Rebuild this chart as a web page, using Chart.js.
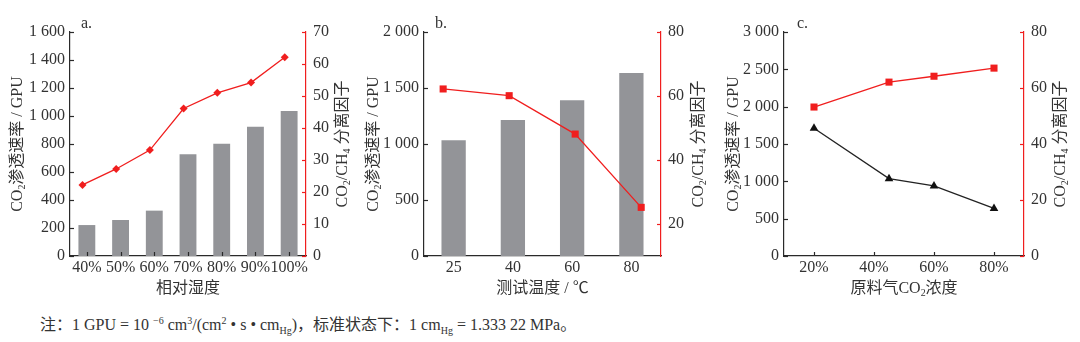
<!DOCTYPE html>
<html><head><meta charset="utf-8">
<script src="https://cdn.jsdelivr.net/npm/chart.js@4"></script>
<style>
body{margin:0;background:#fff;width:1080px;height:342px;position:relative;overflow:hidden}
.c{position:absolute;top:0;width:360px;height:300px}
#note{position:absolute;left:40px;top:315px;font:16px 'Liberation Serif','Noto Sans CJK SC',serif;color:#333;white-space:nowrap;line-height:20px}
#note sup,#note sub{font-size:10px;line-height:0}
</style></head><body>
<div class="c" style="left:0"><canvas id="ca"></canvas></div>
<div class="c" style="left:360px"><canvas id="cb"></canvas></div>
<div class="c" style="left:720px"><canvas id="cc"></canvas></div>
<div id="note">注：1 GPU = 10 <sup>−6</sup> cm<sup>3</sup>/(cm<sup>2</sup> • s • cm<sub>Hg</sub>)，标准状态下：1 cm<sub>Hg</sub> = 1.333 22 MPa。</div>
<script>
// ---- Panel a: relative humidity ----
const humidityLabels = ['40%','50%','60%','70%','80%','90%','100%'];
const humidityPermeance = [221,257,324,726,802,924,1036];
const humiditySelectivity = [22.2,27.2,33.1,46.1,51,54.2,62.1];
// ---- Panel b: test temperature ----
const tempLabels = ['25','40','60','80'];
const tempPermeance = [1033,1214,1390,1634];
const tempSelectivity = [62.2,60.1,48.1,25.2];
const tempRightTicks = [20,40,60,80];
// ---- Panel c: feed CO2 concentration ----
const feedCO2 = [20,45,60,80];
const feedPermeance = [1712,1036,938,637];
const feedSelectivity = [53.2,62.1,64.2,67.1];
const feedTicks = [20,40,60,80];

const FONT = "'Liberation Serif','Noto Sans CJK SC',serif";
const TXT = '#333';
const AX = '#2a2a2a';
const RED = '#f01e1e';
const GRAY = '#939498';
const FS = 16;

const sep = v => String(v).replace(/\B(?=(\d{3})+(?!\d))/g, ' ');

function rich(ctx, parts, x, y, rot, size) {
  ctx.save();
  ctx.translate(x, y);
  ctx.rotate(rot);
  const sub = size * 0.62;
  let total = 0;
  const ws = parts.map(p => {
    ctx.font = (p.s ? sub : size) + 'px ' + FONT;
    const w = ctx.measureText(p.t).width; total += w; return w;
  });
  let cx = -total / 2;
  ctx.textBaseline = 'alphabetic';
  ctx.textAlign = 'left';
  ctx.fillStyle = TXT;
  parts.forEach((p, i) => {
    ctx.font = (p.s ? sub : size) + 'px ' + FONT;
    ctx.fillText(p.t, cx, size * 0.36 + (p.s ? size * 0.22 : 0));
    cx += ws[i];
  });
  ctx.restore();
}

const leftTitle = [{t:'CO'},{t:'2',s:true},{t:'渗透速率 / GPU'}];
const rightTitle = [{t:'CO'},{t:'2',s:true},{t:'/CH'},{t:'4',s:true},{t:' 分离因子'}];

const deco = {
  id: 'deco',
  afterDraw(chart, args, o) {
    const ctx = chart.ctx, a = chart.chartArea;
    ctx.save();
    ctx.lineWidth = 1.2;
    (o.ticks || []).forEach(sp => {
      const s = chart.scales[sp.id];
      ctx.strokeStyle = sp.color;
      s.ticks.forEach((t, i) => {
        const p = Math.round(s.getPixelForTick(i)) + 0.5;
        ctx.beginPath();
        if (sp.dir === 'l') { ctx.moveTo(a.left, p); ctx.lineTo(a.left + 4, p); }
        else if (sp.dir === 'r') { ctx.moveTo(a.right, p); ctx.lineTo(a.right - 4, p); }
        else { ctx.moveTo(p, a.bottom); ctx.lineTo(p, a.bottom - 4); }
        ctx.stroke();
      });
    });
    ctx.restore();
    const cy = (a.top + a.bottom) / 2;
    rich(ctx, leftTitle, o.lx, cy, -Math.PI / 2, FS);
    rich(ctx, rightTitle, o.rx, cy, -Math.PI / 2, FS);
    rich(ctx, o.xTitle, (a.left + a.right) / 2, 287, 0, FS);
    ctx.save();
    ctx.font = FS + 'px ' + FONT;
    ctx.fillStyle = TXT;
    ctx.textBaseline = 'middle';
    ctx.fillText(o.letter, o.letterX, 24);
    ctx.restore();
  }
};

const tickFont = { family: FONT, size: FS };
function yLeft(max, step, w) {
  return { position: 'left', min: 0, max: max,
    ticks: { stepSize: step, font: tickFont, color: TXT, padding: 5, callback: sep },
    grid: { display: false, drawTicks: false },
    border: { display: true, color: AX, width: 1.2 },
    afterFit: s => { s.width = w; } };
}
function yRight(min, max, step, w, fixed) {
  const o = { position: 'right', min: min, max: max,
    ticks: { stepSize: step, font: tickFont, color: TXT, padding: 7 },
    grid: { display: false, drawTicks: false },
    border: { display: true, color: RED, width: 1.2 },
    afterFit: s => { s.width = w; } };
  if (fixed) o.afterBuildTicks = s => { s.ticks = fixed.map(v => ({ value: v })); };
  return o;
}
function xCat() {
  return { type: 'category', position: 'bottom', offset: true,
    ticks: { font: tickFont, color: TXT, padding: 2, maxRotation: 0, autoSkip: false },
    grid: { display: false, drawTicks: false },
    border: { display: true, color: AX, width: 1.2 },
    afterFit: s => { s.height = 44; } };
}
function xHidden(min, max) {
  return { type: 'linear', display: false, min: min, max: max };
}
const common = {
  responsive: true, maintainAspectRatio: false, animation: false,
  layout: { padding: { top: 32, left: 0, right: 0, bottom: 0 } },
};

// Panel a
new Chart(document.getElementById('ca'), {
  data: {
    labels: humidityLabels,
    datasets: [
      { type: 'line', xAxisID: 'x2', yAxisID: 'y1',
        data: humiditySelectivity.map((v, i) => ({ x: i, y: v })),
        borderColor: RED, borderWidth: 1.3, backgroundColor: RED,
        pointStyle: 'rectRot', pointRadius: 4, pointBorderWidth: 0, order: 0 },
      { type: 'bar', xAxisID: 'x', yAxisID: 'y', data: humidityPermeance, grouped: false,
        backgroundColor: GRAY, barPercentage: 0.5, categoryPercentage: 1, order: 1 }
    ]
  },
  options: Object.assign({}, common, {
    scales: { x: xCat(), x2: xHidden(-0.37, 6.63), y: yLeft(1600, 200, 70), y1: yRight(0, 70, 10, 54) },
    plugins: { legend: { display: false }, tooltip: { enabled: false },
      deco: { letter: 'a.', letterX: 81, lx: 16, rx: 341,
        xTitle: [{ t: '相对湿度' }],
        ticks: [{ id: 'y', dir: 'l', color: AX }, { id: 'y1', dir: 'r', color: RED }, { id: 'x', dir: 'b', color: AX }] } }
  }),
  plugins: [deco]
});

// Panel b
new Chart(document.getElementById('cb'), {
  data: {
    labels: tempLabels,
    datasets: [
      { type: 'line', xAxisID: 'x2', yAxisID: 'y1',
        data: tempSelectivity.map((v, i) => ({ x: i, y: v })),
        borderColor: RED, borderWidth: 1.3, backgroundColor: RED,
        pointStyle: 'rect', pointRadius: 5, pointBorderWidth: 0, order: 0 },
      { type: 'bar', xAxisID: 'x', yAxisID: 'y', data: tempPermeance, grouped: false,
        backgroundColor: GRAY, barPercentage: 0.41, categoryPercentage: 1, order: 1 }
    ]
  },
  options: Object.assign({}, common, {
    scales: { x: xCat(), x2: xHidden(-0.29, 3.3), y: yLeft(2000, 500, 64), y1: yRight(10, 80, 10, 59, tempRightTicks) },
    plugins: { legend: { display: false }, tooltip: { enabled: false },
      deco: { letter: 'b.', letterX: 75, lx: 12, rx: 337,
        xTitle: [{ t: '测试温度 / ℃' }],
        ticks: [{ id: 'y', dir: 'l', color: AX }, { id: 'y1', dir: 'r', color: RED }] } }
  }),
  plugins: [deco]
});

// Panel c
const xc = { type: 'linear', position: 'bottom', min: 10, max: 90,
  afterBuildTicks: s => { s.ticks = feedTicks.map(v => ({ value: v })); },
  ticks: { font: tickFont, color: TXT, padding: 2, maxRotation: 0, callback: v => v + '%' },
  grid: { display: false, drawTicks: false },
  border: { display: true, color: AX, width: 1.2 },
  afterFit: s => { s.height = 44; } };
new Chart(document.getElementById('cc'), {
  type: 'line',
  data: {
    datasets: [
      { yAxisID: 'y1', data: feedSelectivity.map((v, i) => ({ x: feedCO2[i], y: v })),
        borderColor: RED, borderWidth: 1.3, backgroundColor: RED,
        pointStyle: 'rect', pointRadius: 5, pointBorderWidth: 0 },
      { yAxisID: 'y', data: feedPermeance.map((v, i) => ({ x: feedCO2[i], y: v })),
        borderColor: '#222', borderWidth: 1.3, backgroundColor: '#111',
        pointStyle: 'triangle', pointRadius: 5, pointBorderWidth: 0 }
    ]
  },
  options: Object.assign({}, common, {
    scales: { x: xc, y: yLeft(3000, 500, 64), y1: yRight(0, 80, 20, 56) },
    plugins: { legend: { display: false }, tooltip: { enabled: false },
      deco: { letter: 'c.', letterX: 77, lx: 12, rx: 339,
        xTitle: [{ t: '原料气CO' }, { t: '2', s: true }, { t: '浓度' }],
        ticks: [{ id: 'y', dir: 'l', color: AX }, { id: 'y1', dir: 'r', color: RED }, { id: 'x', dir: 'b', color: AX }] } }
  }),
  plugins: [deco]
});
</script>
</body></html>
